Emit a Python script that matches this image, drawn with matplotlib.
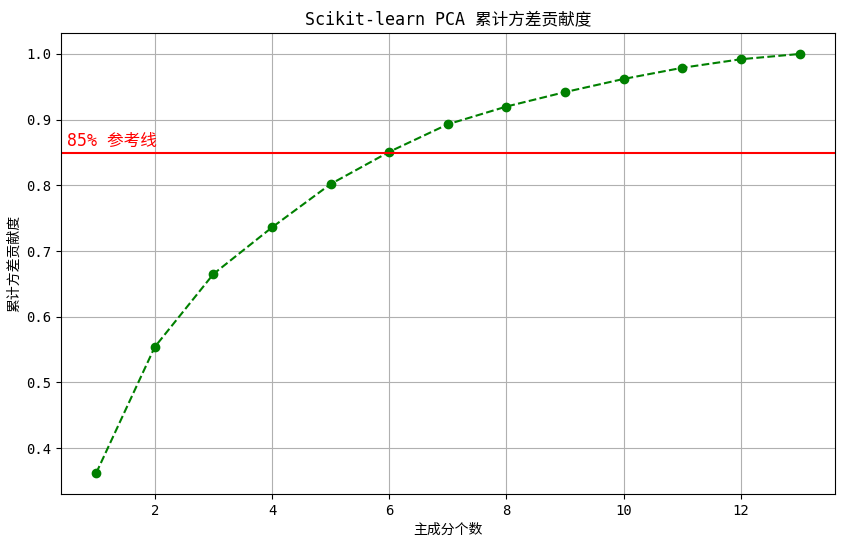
import matplotlib
matplotlib.use("Agg")
import matplotlib.pyplot as plt
import numpy as np

plt.rcParams['font.family'] = ['DejaVu Sans Mono', 'Noto Sans CJK SC']
plt.rcParams['axes.unicode_minus'] = False

# 累计方差贡献度
n_components = [1, 2, 3, 4, 5, 6, 7, 8, 9, 10, 11, 12, 13]
cum_var = [0.362, 0.554, 0.665, 0.736, 0.802, 0.851, 0.893, 0.920,
           0.942, 0.962, 0.979, 0.992, 1.000]
threshold = 0.85

fig = plt.figure(figsize=(8.44, 5.45), dpi=100)
ax = fig.add_axes([0.0723, 0.0936, 0.9167, 0.8458])

ax.plot(n_components, cum_var, marker='o', linestyle='--', color='g')
ax.axhline(y=threshold, color='r', linestyle='-')
ax.text(0.5, threshold + 0.01, '85% 参考线', color='red', fontsize=12)

ax.set_title('Scikit-learn PCA 累计方差贡献度')
ax.set_xlabel('主成分个数')
ax.set_ylabel('累计方差贡献度')
ax.grid(True)

fig.savefig('out.png', dpi=100)
